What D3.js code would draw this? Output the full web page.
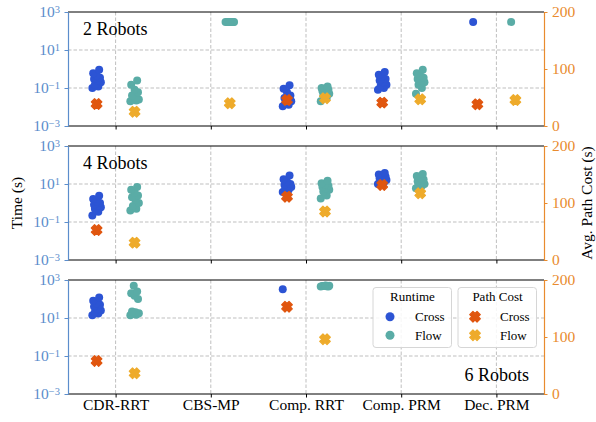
<!DOCTYPE html>
<html>
<head>
<meta charset="utf-8">
<script src="https://cdn.jsdelivr.net/npm/d3@7"></script>
<style>
body { margin: 0; background: #fff; }
svg text { font-family: "Liberation Serif", "Times New Roman", serif; }
</style>
</head>
<body>
<div id="chart"></div>
<script>
var categories = ["CDR-RRT", "CBS-MP", "Comp. RRT", "Comp. PRM", "Dec. PRM"];
var panelNames = ["2 Robots", "4 Robots", "6 Robots"];
var timeTicks = [1e-3, 1e-1, 1e1, 1e3];
var costTicks = [0, 100, 200];

// runtime (s), one list per category
var runtimeCross2 = [[0.1, 0.12, 0.15, 0.2, 0.25, 0.3, 0.35, 0.45, 0.6, 0.9], [],
    [0.011, 0.013, 0.015, 0.02, 0.025, 0.03, 0.04, 0.06, 0.09, 0.14],
    [0.08, 0.1, 0.12, 0.15, 0.2, 0.25, 0.3, 0.4, 0.5, 0.7], [300]];
var runtimeFlow2 = [[0.02, 0.022, 0.025, 0.025, 0.03, 0.04, 0.06, 0.08, 0.15, 0.25],
    [300, 300, 300, 300, 300, 300, 300, 300],
    [0.02, 0.03, 0.04, 0.05, 0.06, 0.07, 0.08, 0.09, 0.1, 0.12],
    [0.05, 0.1, 0.15, 0.2, 0.25, 0.3, 0.35, 0.45, 0.6, 0.9], [300]];
var runtimeCross4 = [[0.22, 0.35, 0.5, 0.6, 0.7, 0.8, 1.0, 1.2, 1.6, 2.4], [],
    [3.8, 5, 6, 7, 8, 9, 10, 13, 18, 28],
    [10, 12, 14, 16, 18, 20, 24, 28, 32, 38], []];
var runtimeFlow4 = [[0.4, 0.5, 0.7, 1.0, 1.5, 2.0, 2.5, 3.5, 5, 7], [],
    [1.7, 2.5, 4, 5, 6, 7, 8, 9, 11, 15],
    [6, 8, 9, 10, 12, 14, 17, 20, 26, 34], []];
var runtimeCross6 = [[14, 17, 20, 25, 30, 40, 50, 60, 80, 120], [], [330], [], []];
var runtimeFlow6 = [[14, 15, 16, 18, 20, 22, 100, 150, 200, 250, 500], [],
    [450, 470, 480, 500, 520, 480, 460, 500], [], []];

// average path cost
var costCross2 = [38.6, null, 45.6, 41, 38];
var costFlow2 = [25, 40, 48.6, 46.8, 45.6];
var costCross4 = [52.6, null, 111, 131.6, null];
var costFlow4 = [30.4, null, 85, 117, null];
var costCross6 = [58, null, 153, null, null];
var costFlow6 = [36.3, null, 96, null, null];

var runtimeCross = [runtimeCross2, runtimeCross4, runtimeCross6];
var runtimeFlow = [runtimeFlow2, runtimeFlow4, runtimeFlow6];
var costCross = [costCross2, costCross4, costCross6];
var costFlow = [costFlow2, costFlow4, costFlow6];

var colCross = "#2c54d4", colFlow = "#5aaca6";
var colCostCross = "#e0560f", colCostFlow = "#eeab2b";
var leftColor = "#5b8dcc", rightColor = "#e98b2e";

var W = 596, H = 422;
var left = 68, right = 544;
var panelTop = [12, 146, 280];
var ph = 114;

var svg = d3.select("#chart").append("svg")
    .attr("width", W)
    .attr("height", H);

var x = d3.scalePoint().domain(categories).range([left, right]).padding(0.5);
var y = d3.scaleLog().domain([1e-3, 1e3]).range([ph, 0]);
var y2 = d3.scaleLinear().domain([0, 200]).range([ph, 0]);

var off = 19;

// thick filled "X" like matplotlib's marker
var fatX = {
    draw: function (ctx, size) {
        var a = 5.2, b = 2.3;
        ctx.moveTo(-b, -a); ctx.lineTo(b, -a); ctx.lineTo(b, -b); ctx.lineTo(a, -b);
        ctx.lineTo(a, b); ctx.lineTo(b, b); ctx.lineTo(b, a); ctx.lineTo(-b, a);
        ctx.lineTo(-b, b); ctx.lineTo(-a, b); ctx.lineTo(-a, -b); ctx.lineTo(-b, -b);
        ctx.closePath();
    }
};
var crossSym = d3.symbol().type(fatX);

function jitter(i) {
    return ((i * 7) % 11 - 5) * 0.85;
}

panelNames.forEach(function (name, p) {
    var g = svg.append("g").attr("transform", "translate(0," + panelTop[p] + ")");

    // grid
    g.selectAll(".vg").data(categories).enter().append("line")
        .attr("x1", function (d) { return x(d); })
        .attr("x2", function (d) { return x(d); })
        .attr("y1", 0).attr("y2", ph)
        .attr("stroke", "#b8b8b8").attr("stroke-width", 0.9)
        .attr("stroke-dasharray", "3.5,2");
    g.selectAll(".hg").data([1e-1, 1e1]).enter().append("line")
        .attr("x1", left).attr("x2", right)
        .attr("y1", function (d) { return y(d); })
        .attr("y2", function (d) { return y(d); })
        .attr("stroke", "#b8b8b8").attr("stroke-width", 0.9)
        .attr("stroke-dasharray", "3.5,2");

    // runtime points
    var pts = [];
    categories.forEach(function (c, ci) {
        runtimeCross[p][ci].forEach(function (v, i) {
            pts.push({ c: c, v: v, dx: -off + jitter(i), col: colCross });
        });
        runtimeFlow[p][ci].forEach(function (v, i) {
            pts.push({ c: c, v: v, dx: off + jitter(i), col: colFlow });
        });
    });
    g.selectAll(".pt").data(pts).enter().append("circle")
        .attr("cx", function (d) { return x(d.c) + d.dx; })
        .attr("cy", function (d) { return y(d.v); })
        .attr("r", 4)
        .attr("fill", function (d) { return d.col; });

    // path cost markers
    var costs = [];
    categories.forEach(function (c, ci) {
        if (costCross[p][ci] != null) costs.push({ c: c, v: costCross[p][ci], dx: -off, col: colCostCross });
        if (costFlow[p][ci] != null) costs.push({ c: c, v: costFlow[p][ci], dx: off, col: colCostFlow });
    });
    g.selectAll(".cm").data(costs).enter().append("path")
        .attr("d", crossSym)
        .attr("transform", function (d) {
            return "translate(" + (x(d.c) + d.dx) + "," + y2(d.v) + ") rotate(45)";
        })
        .attr("fill", function (d) { return d.col; })
        .attr("stroke", function (d) { return d.col; })
        .attr("stroke-width", 1.2)
        .attr("stroke-linejoin", "round");

    // frame
    g.append("line").attr("x1", left).attr("x2", right).attr("y1", 0).attr("y2", 0)
        .attr("stroke", "#000").attr("stroke-width", 1);
    g.append("line").attr("x1", left).attr("x2", right).attr("y1", ph).attr("y2", ph)
        .attr("stroke", "#000").attr("stroke-width", 1);

    // bottom ticks
    var xa = g.append("g").attr("transform", "translate(0," + ph + ")")
        .call(d3.axisBottom(x).tickSize(3.5).tickFormat(p == 2 ? null : ""));
    xa.select(".domain").remove();
    xa.selectAll("line").attr("stroke", "#000");
    xa.selectAll("text").attr("fill", "#000").style("font-size", "15.5px")
        .attr("dy", "0").attr("y", 16);

    // left axis
    var ya = g.append("g").attr("transform", "translate(" + left + ",0)")
        .call(d3.axisLeft(y).tickValues(timeTicks).tickSize(3.5).tickSizeOuter(0).tickFormat(""));
    ya.select(".domain").attr("stroke", leftColor).attr("stroke-width", 1.2);
    ya.selectAll("line").attr("stroke", leftColor);
    ya.selectAll(".tick").each(function (d) {
        var t = d3.select(this).append("text")
            .attr("x", -8).attr("dy", "0.32em")
            .attr("text-anchor", "end")
            .attr("fill", leftColor)
            .style("font-size", "15.5px");
        t.append("tspan").text("10");
        t.append("tspan").attr("dy", "-0.45em").style("font-size", "10.5px")
            .text(String(Math.round(Math.log10(d))).replace("-", "\u2212"));
    });

    // right axis
    var ra = g.append("g").attr("transform", "translate(" + right + ",0)")
        .call(d3.axisRight(y2).tickValues(costTicks).tickSize(3.5).tickSizeOuter(0));
    ra.select(".domain").attr("stroke", rightColor).attr("stroke-width", 1.2);
    ra.selectAll("line").attr("stroke", rightColor);
    ra.selectAll("text").attr("fill", rightColor).style("font-size", "15.5px").attr("x", 8);

    // panel label
    if (p < 2) {
        g.append("text").attr("x", 83).attr("y", 22.5)
            .style("font-size", "18px").text(name);
    } else {
        g.append("text").attr("x", 529).attr("y", 100.5)
            .attr("text-anchor", "end")
            .style("font-size", "18px").text(name);
    }

    if (p == 2) {
        var legends = [
            { title: "Runtime", x0: 373, items: [["Cross", colCross], ["Flow", colFlow]], circ: true },
            { title: "Path Cost", x0: 458, items: [["Cross", colCostCross], ["Flow", colCostFlow]], circ: false }
        ];
        legends.forEach(function (L) {
            var lg = g.append("g").attr("transform", "translate(" + L.x0 + ",7.5)");
            lg.append("rect").attr("width", 78.5).attr("height", 60)
                .attr("rx", 3).attr("fill", "#fff").attr("fill-opacity", 0.85)
                .attr("stroke", "#d6d6d6").attr("stroke-width", 1);
            lg.append("text").attr("x", 39.5).attr("y", 13)
                .attr("text-anchor", "middle").style("font-size", "13px").text(L.title);
            L.items.forEach(function (it, i) {
                var cy = 29.2 + i * 18.6;
                if (L.circ) {
                    lg.append("circle").attr("cx", 17).attr("cy", cy).attr("r", 4.5).attr("fill", it[1]);
                } else {
                    lg.append("path").attr("d", crossSym)
                        .attr("transform", "translate(17," + cy + ") rotate(45)")
                        .attr("fill", it[1]).attr("stroke", it[1])
                        .attr("stroke-width", 1.2).attr("stroke-linejoin", "round");
                }
                lg.append("text").attr("x", 42).attr("y", cy + 4.5)
                    .style("font-size", "13px").text(it[0]);
            });
        });
    }
});

// axis titles
svg.append("text")
    .attr("transform", "translate(22,203) rotate(-90)")
    .attr("text-anchor", "middle")
    .style("font-size", "15.5px")
    .text("Time (s)");
svg.append("text")
    .attr("transform", "translate(592,203) rotate(-90)")
    .attr("text-anchor", "middle")
    .style("font-size", "15.5px")
    .text("Avg. Path Cost (s)");
</script>
</body>
</html>
